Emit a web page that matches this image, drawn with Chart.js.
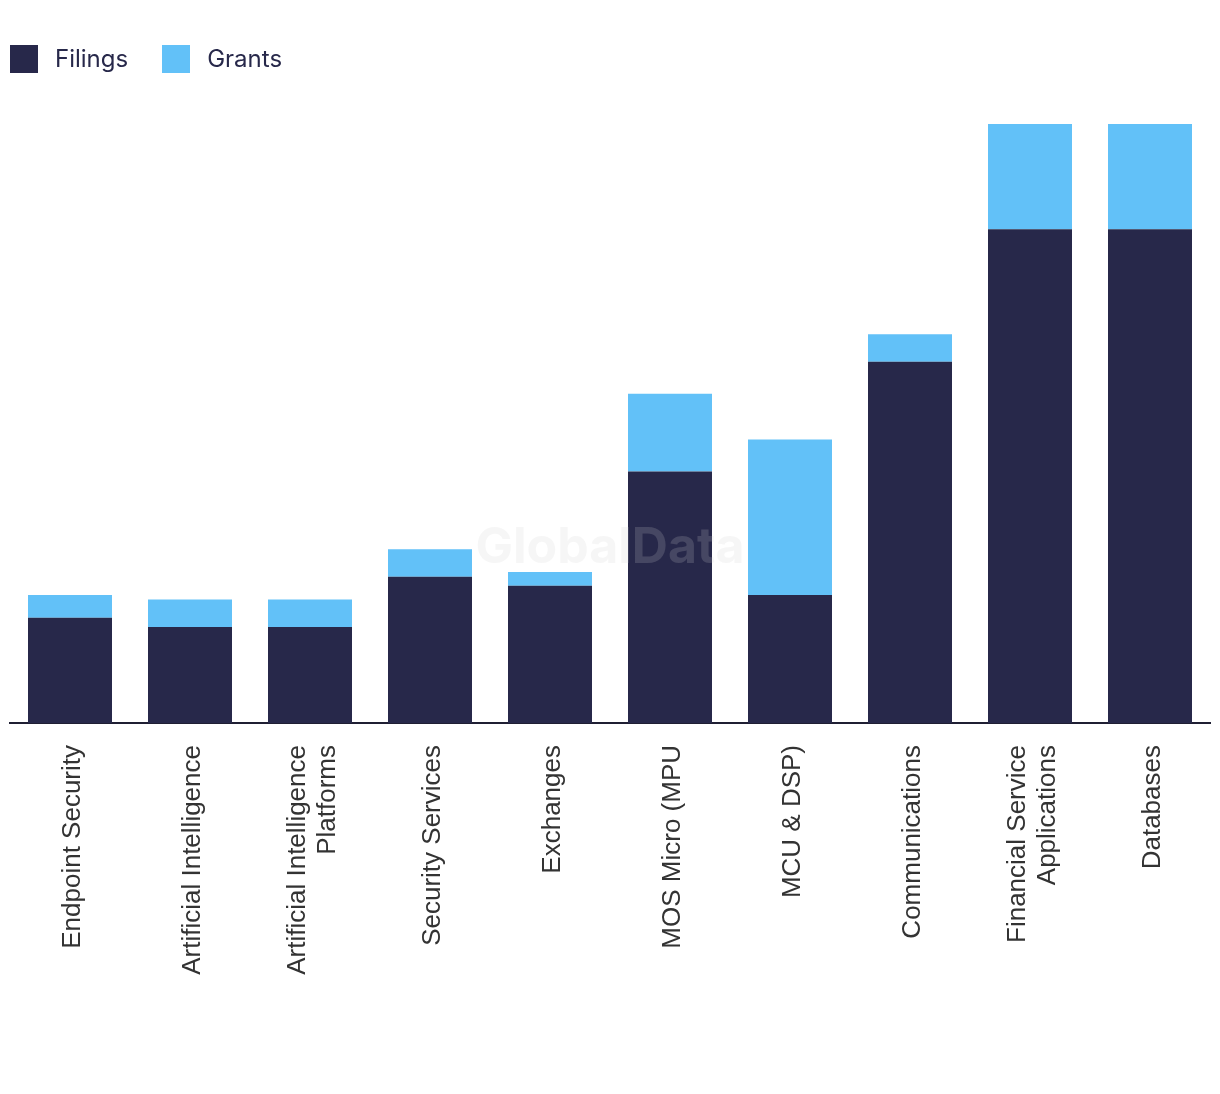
<!DOCTYPE html>
<html>
<head>
<meta charset="utf-8">
<script src="https://cdn.jsdelivr.net/npm/chart.js@4"></script>
<style>
  body { margin: 0; background: #fff; }
  #wrap { position: relative; width: 1220px; height: 1094px; }
  #legend { position: absolute; left: 10px; top: 45px; display: flex; font-family: Inter, 'Noto Sans', sans-serif; font-size: 24px; line-height: 28px; color: #27284a; }
  #legend .item { display: flex; align-items: center; margin-right: 34px; }
  #legend .box { width: 28px; height: 28px; margin-right: 17px; }
</style>
</head>
<body>
<div id="wrap">
  <div id="legend"></div>
  <canvas id="chart" width="1220" height="1094"></canvas>
</div>
<script>
// Filings vs grants per technology area (stacked)

const NAVY = '#27284a';
const SKY = '#62c1f8';
const LABEL_FONT = "26px 'Liberation Sans', Arial, sans-serif";

const categories = [
    'Endpoint Security',
    'Artificial Intelligence',
    ['Artificial Intelligence', 'Platforms'],
    'Security Services',
    'Exchanges',
    'MOS Micro (MPU',
    'MCU & DSP)',
    'Communications',
    ['Financial Service', 'Applications'],
    'Databases'
];
const filings = [23, 21, 21, 32, 30, 55, 28, 79, 108, 108];
const grants = [5, 6, 6, 6, 3, 17, 34, 6, 23, 23];
const seriesNames = ['Filings', 'Grants'];
const seriesColors = [NAVY, SKY];

// rotated category labels, multi-line ones centred on the tick
const xLabels = {
    id: 'xLabels',
    afterDraw(chart) {
        const { ctx } = chart;
        const x = chart.scales.x;
        ctx.save();
        ctx.font = LABEL_FONT;
        ctx.fillStyle = '#333';
        ctx.textAlign = 'right';
        ctx.textBaseline = 'middle';
        chart.data.labels.forEach((lab, i) => {
            const lines = Array.isArray(lab) ? lab : [lab];
            ctx.save();
            ctx.translate(x.getPixelForTick(i), x.top + 22);
            ctx.rotate(-Math.PI / 2);
            lines.forEach((ln, j) => ctx.fillText(ln, 0, 3 + (j - (lines.length - 1) / 2) * 30));
            ctx.restore();
        });
        ctx.restore();
    }
};

const watermark = {
    id: 'watermark',
    afterDatasetsDraw(chart) {
        const { ctx, chartArea } = chart;
        ctx.save();
        ctx.font = 'bold 50px Inter, sans-serif';
        ctx.fillStyle = 'rgba(208,208,208,0.19)';
        ctx.textAlign = 'center';
        ctx.textBaseline = 'middle';
        ctx.fillText('GlobalData', (chartArea.left + chartArea.right) / 2, 548);
        ctx.restore();
    }
};

const chart = new Chart(document.getElementById('chart'), {
    type: 'bar',
    data: {
        labels: categories,
        datasets: [
            { label: seriesNames[0], data: filings, backgroundColor: seriesColors[0] },
            { label: seriesNames[1], data: grants, backgroundColor: seriesColors[1] }
        ]
    },
    options: {
        responsive: false,
        animation: false,
        layout: { padding: { top: 124, left: 10, right: 10, bottom: 371 } },
        datasets: { bar: { categoryPercentage: 1, barPercentage: 0.7 } },
        plugins: { legend: { display: false }, tooltip: { enabled: false } },
        scales: {
            x: {
                stacked: true,
                grid: { display: false, drawTicks: false },
                border: { display: true, color: '#1f1f33', width: 2 },
                ticks: { display: false }
            },
            y: { stacked: true, display: false, min: 0, max: 131 }
        }
    },
    plugins: [watermark, xLabels]
});

// html legend built from the datasets
const legend = document.getElementById('legend');
chart.data.datasets.forEach(ds => {
    const item = document.createElement('div');
    item.className = 'item';
    item.innerHTML = `<span class="box" style="background:${ds.backgroundColor}"></span><span>${ds.label}</span>`;
    legend.appendChild(item);
});
</script>
</body>
</html>
